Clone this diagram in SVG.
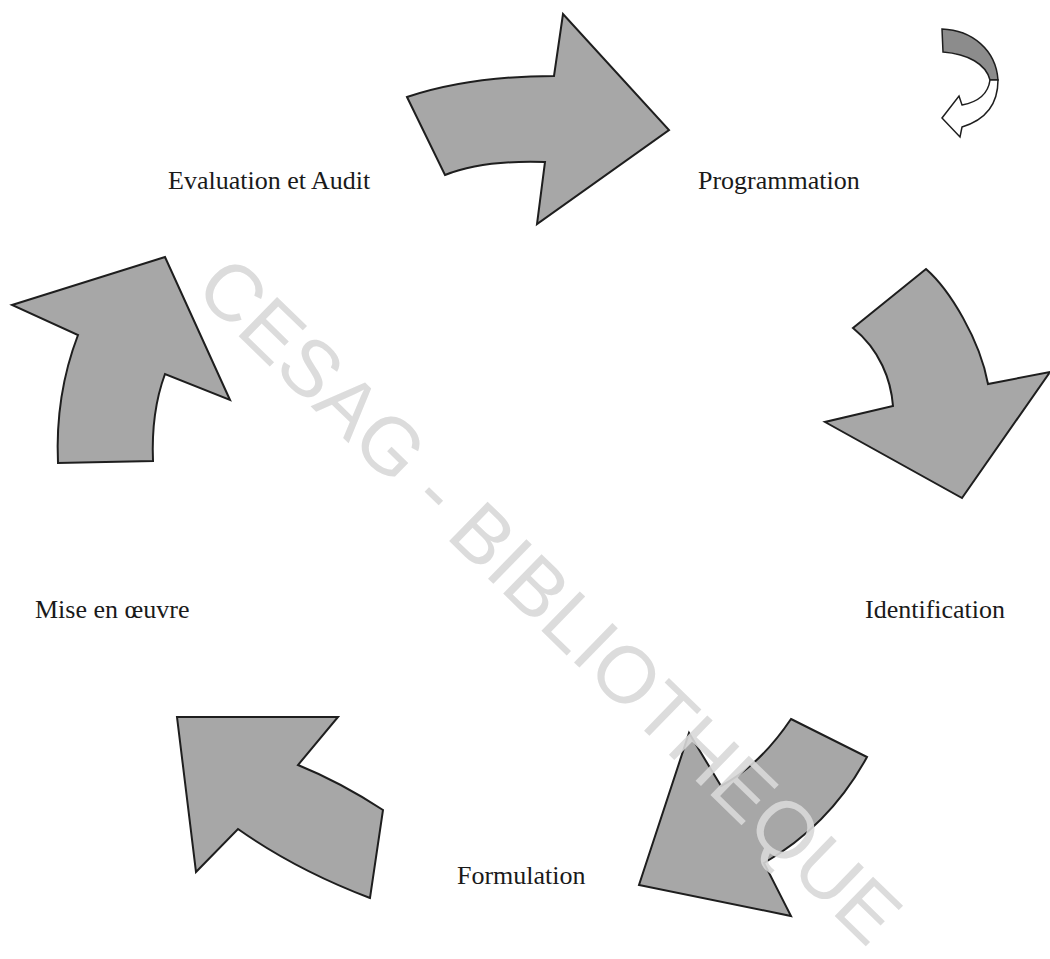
<svg xmlns="http://www.w3.org/2000/svg" width="1050" height="959" viewBox="0 0 1050 959">
<style>
.lbl{font-family:"Liberation Serif","Times New Roman",serif;font-size:26px;fill:#1a1a1a}
.arr{fill:#a7a7a7;stroke:#1e1e1e;stroke-width:2;stroke-linejoin:miter}
.wm{font-family:"Liberation Sans",Arial,sans-serif;font-size:80px;fill:#d9d9d9;opacity:0.9}
</style>
<rect width="1050" height="959" fill="#ffffff"/>
<g id="connectors">
<path class="arr" d="M407,97 C440,86 490,76 554,76 L563,14 L669,130 L537,224 L545,162 C515,161 475,163 445,175 Z"/>
<path class="arr" d="M926,269 C950,290 980,340 988,384 L1050,372 L962,498 L825,422 L893,406 C891,380 880,350 853,328 Z"/>
<path class="arr" d="M791,719 L867,757 Q830,825 764,863 L791,916 L639,885 L689,733 L721,786 Q760,765 791,719 Z"/>
<path class="arr" d="M177,717 L338,717 L298,765 Q340,782 383,810 L370,898 Q296,870 238,829 L196,872 Z"/>
<path class="arr" d="M12,305 L165,257 L230,400 L165,374 Q151,412 153,461 L58,463 Q55,395 78,335 Z"/>
</g>
<g id="curl">
<path d="M942,29 C972,30 996,50 998,80 L990,80 C986,64 968,54 943,52 Z" fill="#8c8c8c" stroke="#1e1e1e" stroke-width="1.5"/>
<path d="M998,80 C998,105 985,120 962,127 L960,137 L942,118 L959,96 L962,105 C978,102 988,95 990,80 Z" fill="#ffffff" stroke="#1e1e1e" stroke-width="1.5"/>
</g>
<g id="node-evaluation"><text class="lbl" x="168" y="189">Evaluation et Audit</text></g>
<g id="node-programmation"><text class="lbl" x="698" y="189">Programmation</text></g>
<g id="node-identification"><text class="lbl" x="865" y="618">Identification</text></g>
<g id="node-formulation"><text class="lbl" x="457" y="884">Formulation</text></g>
<g id="node-mise"><text class="lbl" x="35" y="618">Mise en œuvre</text></g>
<text class="wm" x="550" y="628" text-anchor="middle" transform="rotate(44.2 550 600)">CESAG - BIBLIOTHEQUE</text>
</svg>
